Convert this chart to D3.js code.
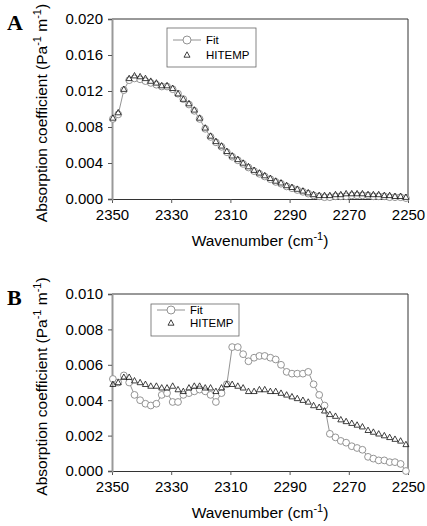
<!DOCTYPE html>
<html>
<head>
    <meta http-equiv="content-type" content="text/html; charset=utf-8" />
    <style>
        body { margin: 0; background: #fff; }
        svg text { font-family: "Liberation Sans", Arial, sans-serif; }
        svg text.letter { font-family: "Liberation Serif", "Times New Roman", serif; font-weight: bold; }
    </style>
</head>
<body>
    <svg width="427" height="526"></svg>

    <script src="https://d3js.org/d3.v7.min.js"></script>
    <script>
        // wavenumber (cm-1) of each point, same for both panels
        const wavenumber = [2349.7, 2347.9, 2346.0, 2344.2, 2342.4, 2340.5, 2338.7, 2336.9, 2335.0, 2333.2,
            2331.4, 2329.5, 2327.7, 2325.9, 2324.0, 2322.2, 2320.4, 2318.5, 2316.7, 2314.9,
            2313.0, 2311.2, 2309.4, 2307.5, 2305.7, 2303.9, 2302.0, 2300.2, 2298.4, 2296.5,
            2294.7, 2292.9, 2291.0, 2289.2, 2287.4, 2285.5, 2283.7, 2281.9, 2280.0, 2278.2,
            2276.4, 2274.5, 2272.7, 2270.9, 2269.0, 2267.2, 2265.4, 2263.5, 2261.7, 2259.9,
            2258.0, 2256.2, 2254.4, 2252.5, 2250.7]

        const fitA = [0.0089, 0.0094, 0.0121, 0.0132, 0.0134, 0.0133, 0.0131, 0.0129, 0.0127, 0.0125,
            0.0125, 0.0122, 0.0117, 0.0111, 0.0105, 0.0098, 0.0089, 0.0078, 0.0069, 0.0063,
            0.0058, 0.0052, 0.0047, 0.0043, 0.0039, 0.0035, 0.0031, 0.0028, 0.0025, 0.0022,
            0.0019, 0.0017, 0.0014, 0.0012, 0.0010, 0.0008, 0.0006, 0.0004, 0.0003, 0.0002,
            0.0002, 0.0003, 0.0003, 0.0003, 0.0004, 0.0004, 0.0004, 0.0004, 0.0003, 0.0003,
            0.0003, 0.0002, 0.0002, 0.0002, 0.0001]
        const hitempA = [0.0090, 0.0096, 0.0122, 0.0134, 0.0137, 0.0136, 0.0134, 0.0131, 0.0129, 0.0126,
            0.0126, 0.0123, 0.0117, 0.0111, 0.0106, 0.0099, 0.0090, 0.0079, 0.0070, 0.0064,
            0.0059, 0.0053, 0.0048, 0.0044, 0.0040, 0.0036, 0.0032, 0.0029, 0.0026, 0.0023,
            0.0020, 0.0018, 0.0015, 0.0013, 0.0011, 0.0009, 0.0007, 0.0005, 0.0004, 0.0004,
            0.0004, 0.0005, 0.0005, 0.0006, 0.0006, 0.0006, 0.0006, 0.0005, 0.0005, 0.0005,
            0.0004, 0.0004, 0.0003, 0.0003, 0.0002]

        const fitB = [0.0052, 0.0050, 0.0054, 0.0050, 0.0043, 0.0040, 0.0038, 0.0037, 0.0038, 0.0043,
            0.0044, 0.0039, 0.0039, 0.0043, 0.0044, 0.0045, 0.0046, 0.0045, 0.0043, 0.0039,
            0.0044, 0.0049, 0.0070, 0.0070, 0.0066, 0.0062, 0.0064, 0.0065, 0.0065, 0.0064,
            0.0063, 0.0060, 0.0056, 0.0055, 0.0055, 0.0055, 0.0056, 0.0049, 0.0043, 0.0037,
            0.0021, 0.0019, 0.0017, 0.0016, 0.0014, 0.0013, 0.0012, 0.0008, 0.0007, 0.0006,
            0.0006, 0.0005, 0.0005, 0.0004, 0.0000]
        const hitempB = [0.0049, 0.0050, 0.0053, 0.0053, 0.0051, 0.0050, 0.0049, 0.0048, 0.0048, 0.0047,
            0.0047, 0.0048, 0.0046, 0.0045, 0.0047, 0.0048, 0.0048, 0.0047, 0.0047, 0.0045,
            0.0047, 0.0049, 0.0049, 0.0048, 0.0047, 0.0045, 0.0045, 0.0046, 0.0046, 0.0045,
            0.0045, 0.0044, 0.0043, 0.0042, 0.0041, 0.0040, 0.0039, 0.0037, 0.0036, 0.0034,
            0.0032, 0.0031, 0.0029, 0.0028, 0.0027, 0.0026, 0.0025, 0.0023, 0.0022, 0.0021,
            0.0020, 0.0019, 0.0018, 0.0017, 0.0015]

        const xTicks = [2350, 2330, 2310, 2290, 2270, 2250]
        const yTicksA = [0, 0.004, 0.008, 0.012, 0.016, 0.020]
        const yTicksB = [0, 0.002, 0.004, 0.006, 0.008, 0.010]
        const seriesNames = ['Fit', 'HITEMP']

        const svg = d3.select('svg')
        const left = 112, right = 408

        const triPath = 'M0,-3.2 L3,2.2 L-3,2.2 Z'

        function drawPanel(o) {
            const g = svg.append('g')
            const x = d3.scaleLinear().domain([2350, 2250]).range([left, right])
            const y = d3.scaleLinear().domain([0, o.yMax]).range([o.bottom, o.top])

            // frame (top + right)
            g.append('path')
                .attr('d', `M${left},${o.top} H${right} V${o.bottom}`)
                .attr('fill', 'none').attr('stroke', '#333').attr('stroke-width', 1)

            const xAxis = g.append('g')
                .attr('transform', `translate(0,${o.bottom})`)
                .call(d3.axisBottom(x).tickValues(xTicks).tickSize(4).tickPadding(6).tickFormat(d3.format('d')))
            const yAxis = g.append('g')
                .attr('transform', `translate(${left},0)`)
                .call(d3.axisLeft(y).tickValues(o.yTicks).tickSize(4).tickPadding(5).tickFormat(d3.format('.3f')))

            xAxis.select('.domain').attr('stroke', '#333')
            yAxis.select('.domain').attr('stroke', '#999').attr('stroke-width', 2)
            g.selectAll('.tick line').attr('stroke', '#555')
            g.selectAll('.tick text').attr('font-size', 15).attr('fill', '#000')

            // fit line + circles
            const pts = wavenumber.map((w, i) => ({ w, f: o.fit[i], h: o.hitemp[i] }))
            g.append('path')
                .datum(pts)
                .attr('fill', 'none').attr('stroke', '#777').attr('stroke-width', 0.8)
                .attr('d', d3.line().x(d => x(d.w)).y(d => y(d.f)))
            g.selectAll('circle.fit').data(pts).join('circle')
                .attr('class', 'fit')
                .attr('cx', d => x(d.w)).attr('cy', d => y(d.f)).attr('r', 3.4)
                .attr('fill', '#fff').attr('stroke', '#888').attr('stroke-width', 0.9)
            g.selectAll('path.hit').data(pts).join('path')
                .attr('class', 'hit')
                .attr('d', triPath)
                .attr('transform', d => `translate(${x(d.w)},${y(d.h)})`)
                .attr('fill', 'none').attr('stroke', '#111').attr('stroke-width', 0.8)

            // legend
            const L = o.legend
            g.append('rect').attr('x', L.x).attr('y', L.y).attr('width', L.w).attr('height', L.h)
                .attr('fill', '#fff').attr('stroke', '#666').attr('stroke-width', 0.8)
            const cx = L.x + 20
            g.append('line').attr('x1', cx - 14).attr('x2', cx + 14).attr('y1', L.y + L.r1).attr('y2', L.y + L.r1)
                .attr('stroke', '#777').attr('stroke-width', 0.8)
            g.append('circle').attr('cx', cx).attr('cy', L.y + L.r1).attr('r', 4)
                .attr('fill', '#fff').attr('stroke', '#888').attr('stroke-width', 0.9)
            g.append('path').attr('d', triPath)
                .attr('transform', `translate(${cx},${L.y + L.r2})`)
                .attr('fill', 'none').attr('stroke', '#111').attr('stroke-width', 0.8)
            g.selectAll('text.leg').data(seriesNames).join('text')
                .attr('class', 'leg')
                .attr('x', cx + 19).attr('y', (d, i) => L.y + (i ? L.r2 : L.r1) + 4)
                .attr('font-size', 11.5).text(d => d)

            // panel letter
            g.append('text').attr('class', 'letter').attr('x', 7).attr('y', o.top + 11)
                .attr('font-size', 22).text(o.letter)

            // x title
            const xt = g.append('text').attr('x', (left + right) / 2).attr('y', o.bottom + 47)
                .attr('text-anchor', 'middle').attr('font-size', 15.5)
            xt.append('tspan').text('Wavenumber (cm')
            xt.append('tspan').attr('font-size', 11).attr('dy', -6).text('-1')
            xt.append('tspan').attr('dy', 6).text(')')

            // y title
            const yt = g.append('text')
                .attr('transform', `translate(47,${(o.top + o.bottom) / 2 + 4}) rotate(-90)`)
                .attr('text-anchor', 'middle').attr('font-size', 15.5)
            yt.append('tspan').text('Absorption coefficient (Pa')
            yt.append('tspan').attr('font-size', 11).attr('dy', -6).text('-1')
            yt.append('tspan').attr('dy', 6).text(' m')
            yt.append('tspan').attr('font-size', 11).attr('dy', -6).text('-1')
            yt.append('tspan').attr('dy', 6).text(')')
        }

        drawPanel({
            letter: 'A', top: 19, bottom: 199, yMax: 0.020, yTicks: yTicksA,
            fit: fitA, hitemp: hitempA,
            legend: { x: 167, y: 28, w: 89, h: 39, r1: 12, r2: 27 }
        })
        drawPanel({
            letter: 'B', top: 294, bottom: 471, yMax: 0.010, yTicks: yTicksB,
            fit: fitB, hitemp: hitempB,
            legend: { x: 151, y: 304, w: 88, h: 32, r1: 6, r2: 19 }
        })
    </script>
</body>
</html>
